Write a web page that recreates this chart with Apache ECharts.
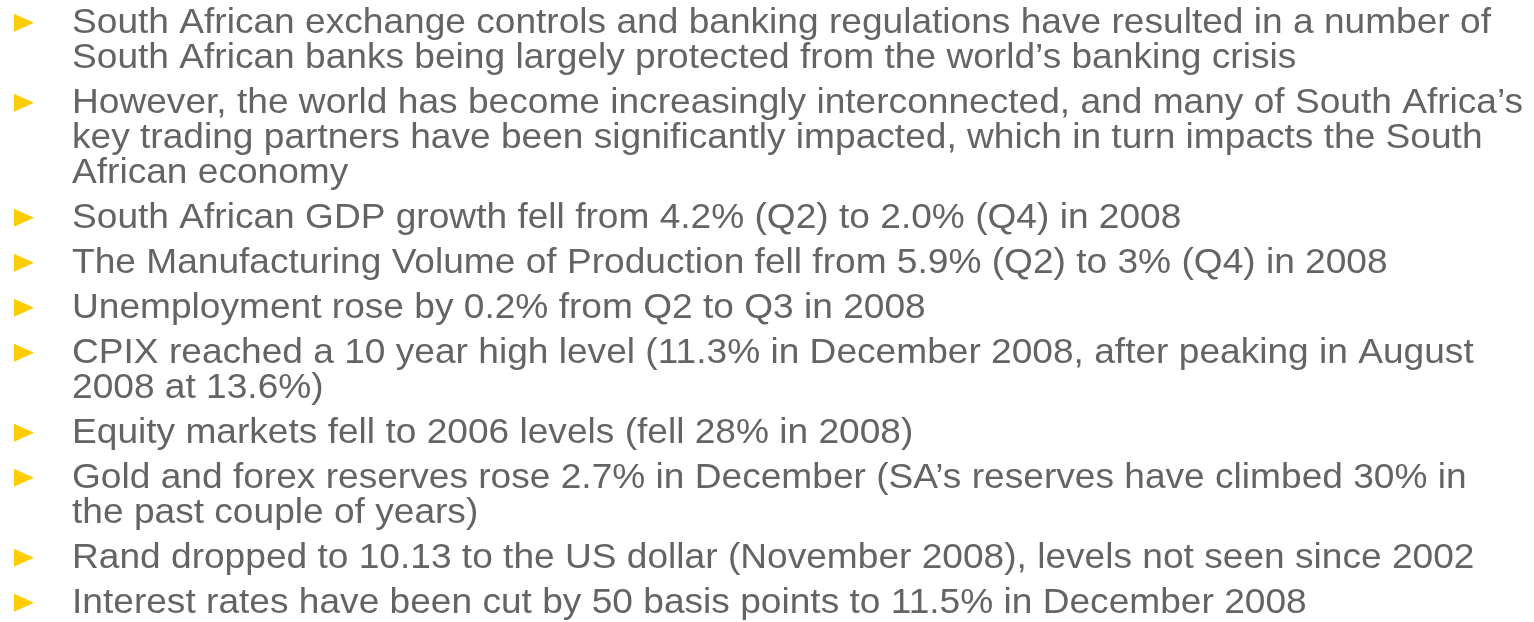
<!DOCTYPE html>
<html>
<head>
<meta charset="utf-8">
<script src="https://cdn.jsdelivr.net/npm/echarts@6/dist/echarts.min.js"></script>
<style>
html,body{margin:0;padding:0;background:#fff;}
#c{width:1534px;height:622px;}
</style>
</head>
<body>
<div id="c"></div>
<script>
// Bullet paragraphs (each paragraph split into its rendered lines)
var bullet1 = ["South African exchange controls and banking regulations have resulted in a number of",
               "South African banks being largely protected from the world\u2019s banking crisis"];
var bullet2 = ["However, the world has become increasingly interconnected, and many of South Africa\u2019s",
               "key trading partners have been significantly impacted, which in turn impacts the South",
               "African economy"];
var bullet3 = ["South African GDP growth fell from 4.2% (Q2) to 2.0% (Q4) in 2008"];
var bullet4 = ["The Manufacturing Volume of Production fell from 5.9% (Q2) to 3% (Q4) in 2008"];
var bullet5 = ["Unemployment rose by 0.2% from Q2 to Q3 in 2008"];
var bullet6 = ["CPIX reached a 10 year high level (11.3% in December 2008, after peaking in August",
               "2008 at 13.6%)"];
var bullet7 = ["Equity markets fell to 2006 levels (fell 28% in 2008)"];
var bullet8 = ["Gold and forex reserves rose 2.7% in December (SA\u2019s reserves have climbed 30% in",
               "the past couple of years)"];
var bullet9 = ["Rand dropped to 10.13 to the US dollar (November 2008), levels not seen since 2002"];
var bullet10 = ["Interest rates have been cut by 50 basis points to 11.5% in December 2008"];
var bullets = [bullet1, bullet2, bullet3, bullet4, bullet5, bullet6, bullet7, bullet8, bullet9, bullet10];

var chart = echarts.init(document.getElementById('c'), null, {renderer: 'canvas'});

var FS = 35, FIRST = 35, LINE = 35, GAP = 10, TX = 72, SX = 1.06;
var TEXT_COLOR = '#646464', BULLET_COLOR = '#FFCC00';
var els = [];
var lineIdx = 0;
bullets.forEach(function (para, p) {
  para.forEach(function (ln, k) {
    var base = FIRST + LINE * lineIdx + GAP * p;
    var mid = base - 0.3465 * FS;
    if (k === 0) {
      els.push({
        type: 'polygon',
        shape: {points: [[14, mid - 9], [34, mid], [14, mid + 9]]},
        style: {fill: BULLET_COLOR}
      });
    }
    els.push({
      type: 'text',
      x: TX, y: mid,
      scaleX: SX, scaleY: 1,
      style: {
        text: ln,
        fill: TEXT_COLOR,
        fontSize: FS,
        fontFamily: '"Liberation Sans", Arial, sans-serif',
        verticalAlign: 'middle',
        align: 'left'
      }
    });
    lineIdx++;
  });
});

chart.setOption({
  backgroundColor: '#ffffff',
  animation: false,
  graphic: {elements: els}
});
</script>
</body>
</html>
